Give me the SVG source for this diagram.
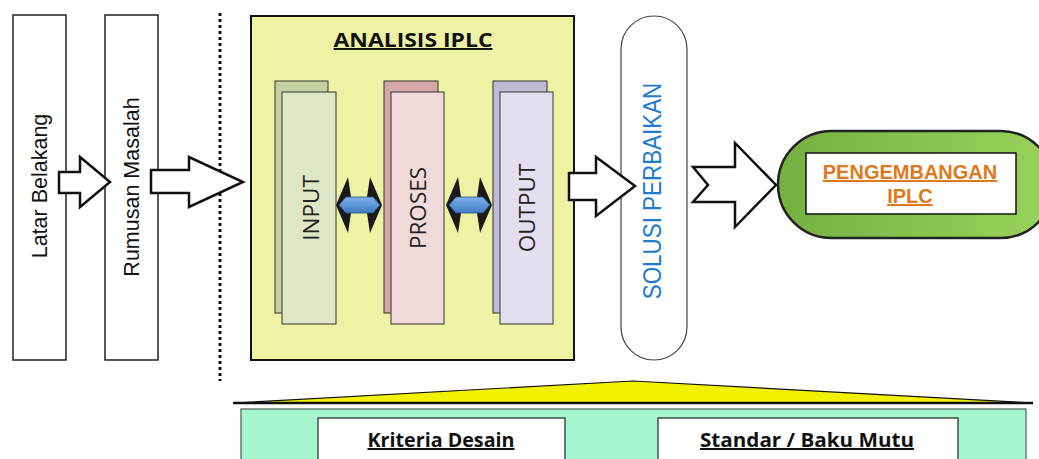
<svg xmlns="http://www.w3.org/2000/svg" width="1039" height="459" viewBox="0 0 1039 459">
  <defs>
    <style>
      .box { fill: #ffffff; stroke: #222; stroke-width: 1.5; }
      .vlabel { font-family: "Liberation Sans", Arial, sans-serif; font-size: 21.5px; fill: #111; text-anchor: middle; }
      .block { fill: #ffffff; stroke: #111; stroke-width: 2.5; stroke-linejoin: miter; }
      .card { stroke: #333; stroke-width: 1; }
      .cardtext { font-family: "Open Sans", "Liberation Sans", sans-serif; font-size: 22.5px; fill: #222; text-anchor: middle; }
      .dbl-dark { fill: #1a1a1a; }
      .dbl-blue { fill: url(#blueGrad); stroke: #2b4f80; stroke-width: 0.8; }
      .btitle { font-family: "Open Sans", "Liberation Sans", sans-serif; font-weight: bold; fill: #111; text-anchor: middle; text-decoration: underline; }
      .base { fill: #ffffff; stroke: #222; stroke-width: 1.2; }
      .outcome { font-family: "Liberation Sans", Arial, sans-serif; font-weight: bold; font-size: 20px; fill: #e0781e; text-anchor: middle; text-decoration: underline; }
    </style>
    <linearGradient id="blueGrad" x1="0" y1="0" x2="0" y2="1">
      <stop offset="0" stop-color="#7fb2ea"/>
      <stop offset="1" stop-color="#3f7cc4"/>
    </linearGradient>
    <linearGradient id="greenGrad" x1="0" y1="0" x2="1" y2="0">
      <stop offset="0" stop-color="#74b040"/>
      <stop offset="1" stop-color="#98d45c"/>
    </linearGradient>
  </defs>

  <rect width="1039" height="459" fill="#ffffff"/>

  <!-- left column: background and problem statement -->
  <g id="latar-belakang">
    <rect class="box" x="13" y="15" width="53" height="345"/>
    <text class="vlabel" transform="translate(47,186) rotate(-90)">Latar Belakang</text>
  </g>
  <g id="rumusan-masalah">
    <rect class="box" x="105" y="15" width="53" height="345"/>
    <text class="vlabel" transform="translate(139,187) rotate(-90)">Rumusan Masalah</text>
  </g>

  <!-- dotted divider -->
  <line id="divider" x1="220" y1="13" x2="220" y2="381" stroke="#111" stroke-width="3" stroke-dasharray="3,3"/>

  <!-- analysis block with input / process / output cards -->
  <g id="analisis-iplc">
    <rect x="251" y="16" width="323" height="344" fill="#eef2a4" stroke="#111" stroke-width="2"/>
    <text class="btitle" x="413" y="47" font-size="19.5" textLength="159" lengthAdjust="spacingAndGlyphs">ANALISIS IPLC</text>
  </g>
  <g id="input">
    <rect class="card" x="275" y="81" width="53" height="232" fill="#c3d29e"/>
    <rect class="card" x="282" y="92" width="54" height="232" fill="#dde7c6"/>
    <text class="cardtext" transform="translate(319,208) rotate(-90)">INPUT</text>
  </g>
  <g id="proses">
    <rect class="card" x="384" y="81" width="54" height="232" fill="#d6a7a7"/>
    <rect class="card" x="391" y="92" width="53" height="232" fill="#f1dada"/>
    <text class="cardtext" transform="translate(426,208) rotate(-90)">PROSES</text>
  </g>
  <g id="output">
    <rect class="card" x="493" y="81" width="54" height="232" fill="#c2b9d6"/>
    <rect class="card" x="500" y="92" width="53" height="232" fill="#e4dfef"/>
    <text class="cardtext" transform="translate(535,208) rotate(-90)">OUTPUT</text>
  </g>

  <!-- improvement solution -->
  <g id="solusi-perbaikan">
    <rect x="621" y="16" width="66" height="344" rx="33" ry="33" fill="#ffffff" stroke="#444" stroke-width="1.2"/>
    <text transform="translate(661,191) scale(1.15,1) rotate(-90)" font-family="'Liberation Sans', Arial, sans-serif" font-size="22.4" fill="#1f7ccc" text-anchor="middle">SOLUSI PERBAIKAN</text>
  </g>

  <!-- development outcome -->
  <g id="pengembangan-iplc">
    <rect x="778" y="131" width="276" height="107" rx="53.5" ry="53.5" fill="url(#greenGrad)" stroke="#222" stroke-width="2.5"/>
    <rect x="806" y="153" width="210" height="61" fill="#ffffff" stroke="#111" stroke-width="1.5"/>
    <text class="outcome" x="910" y="179">PENGEMBANGAN</text>
    <text class="outcome" x="910" y="203">IPLC</text>
  </g>

  <!-- foundation: roof and criteria -->
  <g id="fondasi">
    <polygon points="233,403 633,381 1033,403" fill="#f2f200" stroke="#111" stroke-width="1.2" stroke-linejoin="miter"/>
    <line x1="233" y1="403" x2="1033" y2="403" stroke="#111" stroke-width="2.5"/>
    <rect x="241" y="409" width="785" height="60" fill="#a6f6cf" stroke="#555" stroke-width="1.2"/>
  </g>
  <g id="kriteria-desain">
    <rect class="base" x="318" y="418" width="247" height="50"/>
    <text class="btitle" x="441" y="447" font-size="20" textLength="147" lengthAdjust="spacingAndGlyphs">Kriteria Desain</text>
  </g>
  <g id="standar-baku-mutu">
    <rect class="base" x="658" y="418" width="300" height="50"/>
    <text class="btitle" x="807" y="447" font-size="20" textLength="214" lengthAdjust="spacingAndGlyphs">Standar / Baku Mutu</text>
  </g>

  <!-- connectors -->
  <g id="connectors">
    <polygon class="block" points="59,172 80,172 80,157 110,182 80,207 80,193 59,193"/>
    <polygon class="block" points="151,170 189,170 189,157 243,182 189,207 189,193 151,193"/>
    <polygon class="block" points="569,173 596,173 596,157 635,186 596,216 596,200 569,200"/>
    <polygon class="block" points="693,167 735,167 735,143 776,185 735,227 735,202 693,202 708,185"/>
    <!-- double arrows between cards -->
    <polygon class="dbl-dark" points="336,205 348,177 351,197 367,197 370,177 382,205 370,233 367,213 351,213 348,233"/>
    <polygon class="dbl-blue" points="339,205 346,197 373,197 380,205 373,213 346,213"/>
    <polygon class="dbl-dark" points="446,205 458,177 461,197 477,197 480,177 492,205 480,233 477,213 461,213 458,233"/>
    <polygon class="dbl-blue" points="449,205 456,197 483,197 490,205 483,213 456,213"/>
  </g>
</svg>
